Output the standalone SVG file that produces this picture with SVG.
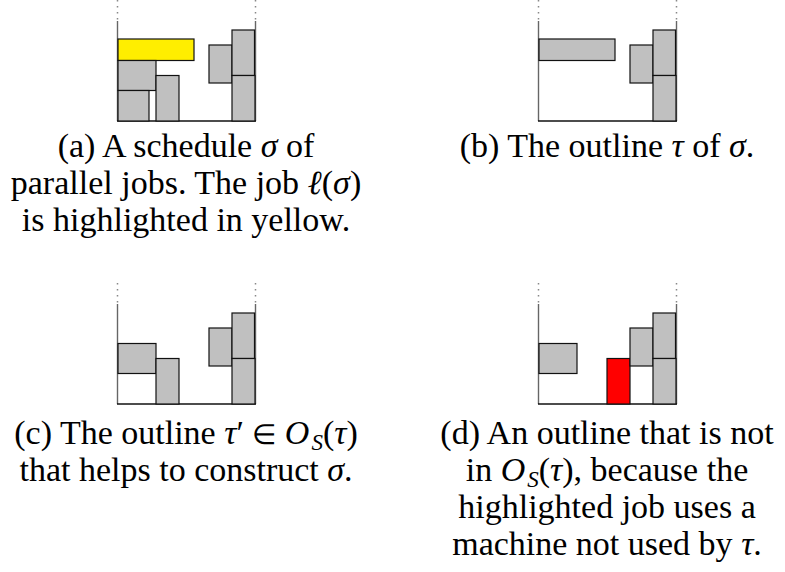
<svg xmlns="http://www.w3.org/2000/svg" width="785" height="572" viewBox="0 0 785 572">
<style>
.job{fill:#c0c0c0;stroke:#111;stroke-width:1.2}
.yel{fill:#ffee00;stroke:#111;stroke-width:1.2}
.red{fill:#ff0000;stroke:#111;stroke-width:1.2}
.ax{stroke:#666;stroke-width:1.4;fill:none}
.dot{stroke:#888;stroke-width:1.5;stroke-dasharray:1.5 4.5;fill:none}
.base{stroke:#111;stroke-width:1.4;fill:none}
.cap{font-family:"Liberation Serif","Times New Roman",serif;font-size:34px;fill:#000;text-anchor:middle}
.m{font-style:italic}
.sub{font-size:23px;font-style:italic;baseline-shift:-6px}
.rel{font-size:28px}
</style>
<defs>
<g id="axes">
<line class="dot" x1="117.5" y1="0" x2="117.5" y2="20"/>
<line class="dot" x1="255.5" y1="0" x2="255.5" y2="20"/>
<line class="ax" x1="117.5" y1="21" x2="117.5" y2="121"/>
<line class="ax" x1="255.5" y1="21" x2="255.5" y2="121"/>
<line class="base" x1="117" y1="121" x2="256" y2="121"/>
</g>
</defs>
<g id="panel-a">
<use href="#axes"/>
<rect class="yel" x="118" y="39" width="76" height="21.5"/>
<rect class="job" x="118" y="60.5" width="38" height="30"/>
<rect class="job" x="118" y="90.5" width="31" height="30.5"/>
<rect class="job" x="156" y="75.5" width="23" height="45.5"/>
<rect class="job" x="209" y="45" width="23" height="38"/>
<rect class="job" x="232" y="30" width="22.5" height="45.5"/>
<rect class="job" x="232" y="75.5" width="23" height="45.5"/>
</g>
<g id="panel-b">
<use href="#axes" x="421"/>
<rect class="job" x="539" y="39" width="76" height="21.5"/>
<rect class="job" x="630" y="45" width="23" height="38"/>
<rect class="job" x="653" y="30" width="22.5" height="45.5"/>
<rect class="job" x="653" y="75.5" width="23" height="45.5"/>
</g>
<g id="panel-c">
<use href="#axes" y="283"/>
<rect class="job" x="118" y="343.5" width="38" height="30"/>
<rect class="job" x="156" y="358.5" width="23" height="45.5"/>
<rect class="job" x="209" y="328" width="23" height="38"/>
<rect class="job" x="232" y="313" width="22.5" height="45.5"/>
<rect class="job" x="232" y="358.5" width="23" height="45.5"/>
</g>
<g id="panel-d">
<use href="#axes" x="421" y="283"/>
<rect class="job" x="539" y="343.5" width="38" height="30"/>
<rect class="red" x="607" y="358.5" width="23" height="45.5"/>
<rect class="job" x="630" y="328" width="23" height="38"/>
<rect class="job" x="653" y="313" width="22.5" height="45.5"/>
<rect class="job" x="653" y="358.5" width="23" height="45.5"/>
</g>
<g id="captions">
<text class="cap" x="186" y="157">(a) A schedule <tspan class="m">σ</tspan> of</text>
<text class="cap" x="186" y="194">parallel jobs. The job <tspan class="m">ℓ</tspan>(<tspan class="m">σ</tspan>)</text>
<text class="cap" x="186" y="231">is highlighted in yellow.</text>
<text class="cap" x="607" y="157">(b) The outline <tspan class="m">τ</tspan> of <tspan class="m">σ</tspan>.</text>
<text class="cap" x="186" y="444">(c) The outline <tspan class="m">τ</tspan>′ <tspan class="rel">∈</tspan> <tspan class="m">O</tspan><tspan class="sub" dx="2">S</tspan>(<tspan class="m">τ</tspan>)</text>
<text class="cap" x="186" y="481">that helps to construct <tspan class="m">σ</tspan>.</text>
<text class="cap" x="607" y="444">(d) An outline that is not</text>
<text class="cap" x="607" y="481">in <tspan class="m">O</tspan><tspan class="sub" dx="2">S</tspan>(<tspan class="m">τ</tspan>), because the</text>
<text class="cap" x="607" y="518">highlighted job uses a</text>
<text class="cap" x="607" y="555">machine not used by <tspan class="m">τ</tspan>.</text>
</g>
</svg>
